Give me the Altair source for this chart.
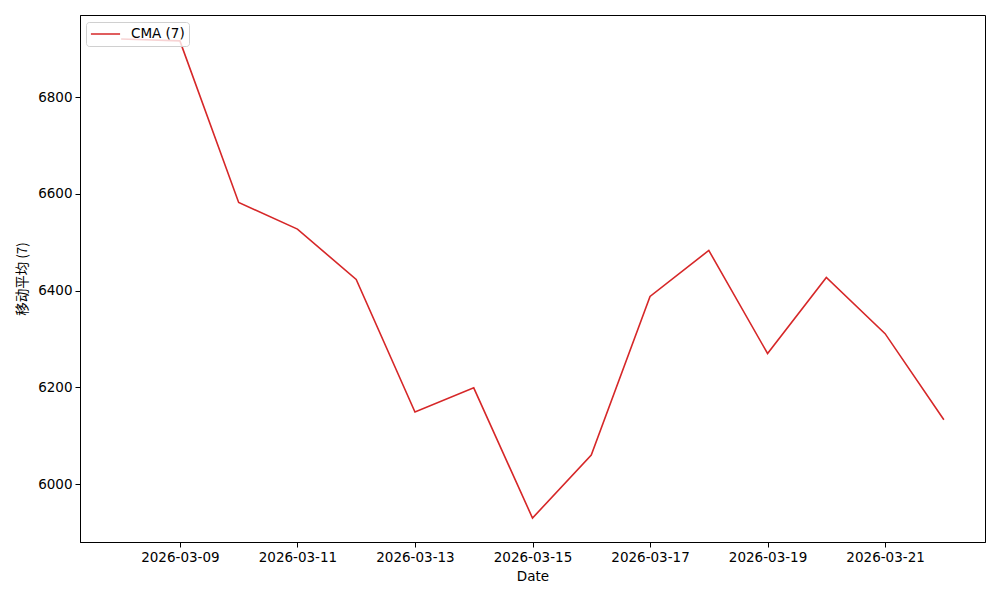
import altair as alt
import pandas as pd

dates = ["2026-03-08", "2026-03-09", "2026-03-10", "2026-03-11", "2026-03-12",
         "2026-03-13", "2026-03-14", "2026-03-15", "2026-03-16", "2026-03-17",
         "2026-03-18", "2026-03-19", "2026-03-20", "2026-03-21", "2026-03-22"]
cma = [6920, 6916, 6582, 6527, 6423, 6149, 6199, 5930, 6060, 6388,
       6483, 6270, 6427, 6311, 6133]
series = ["CMA (7)"] * len(dates)
tick_dates = [(2026, 3, 9), (2026, 3, 11), (2026, 3, 13), (2026, 3, 15),
              (2026, 3, 17), (2026, 3, 19), (2026, 3, 21)]
y_ticks = [6000, 6200, 6400, 6600, 6800]

df = pd.DataFrame({"date": dates, "value": cma, "series": series})

font = "DejaVu Sans"

chart = alt.Chart(df).mark_line(strokeWidth=1.6).encode(
    x=alt.X("date:T",
            scale=alt.Scale(type="utc",
                            domain=[alt.DateTime(year=2026, month=3, date=7, hours=7, minutes=12, utc=True),
                                    alt.DateTime(year=2026, month=3, date=22, hours=16, minutes=48, utc=True)]),
            axis=alt.Axis(title="Date", labelExpr="utcFormat(datum.value, '%Y-%m-%d')",
                          values=[alt.DateTime(year=y, month=m, date=d, utc=True) for (y, m, d) in tick_dates],
                          grid=False, labelAngle=0)),
    y=alt.Y("value:Q", scale=alt.Scale(domain=[5880.5, 6969.5], nice=False, zero=False),
            axis=alt.Axis(title="移动平均 (7)", values=y_ticks, format="d", grid=False)),
    color=alt.Color("series:N", scale=alt.Scale(range=["#d62728"]),
                    legend=alt.Legend(title=None, orient="none", legendX=6, legendY=7,
                                      symbolType="stroke", symbolStrokeWidth=1.6, symbolSize=850,
                                      labelFontSize=13.5, labelFont=font, labelOffset=10,
                                      clipHeight=16,
                                      strokeColor="#d0d0d0", fillColor="rgba(255,255,255,0.8)",
                                      cornerRadius=3, padding=4, zindex=1)),
).properties(
    width=905, height=527,
    autosize=alt.AutoSizeParams(type="none"),
    padding={"left": 72, "top": 7, "right": 7, "bottom": 50},
).configure_view(
    stroke="black", strokeWidth=1
).configure_axis(
    domainColor="black", tickColor="black", tickSize=5, labelColor="black",
    labelFont=font, labelFontSize=13.5, titleFont=font, titleFontSize=13.5,
    titleFontWeight="normal", titleColor="black", labelPadding=3
).configure_axisX(
    titlePadding=6
).configure_axisY(
    titleFont="Noto Sans CJK SC", titlePadding=8
)

chart.save("out.html", embed_options={"renderer": "svg", "actions": False})
